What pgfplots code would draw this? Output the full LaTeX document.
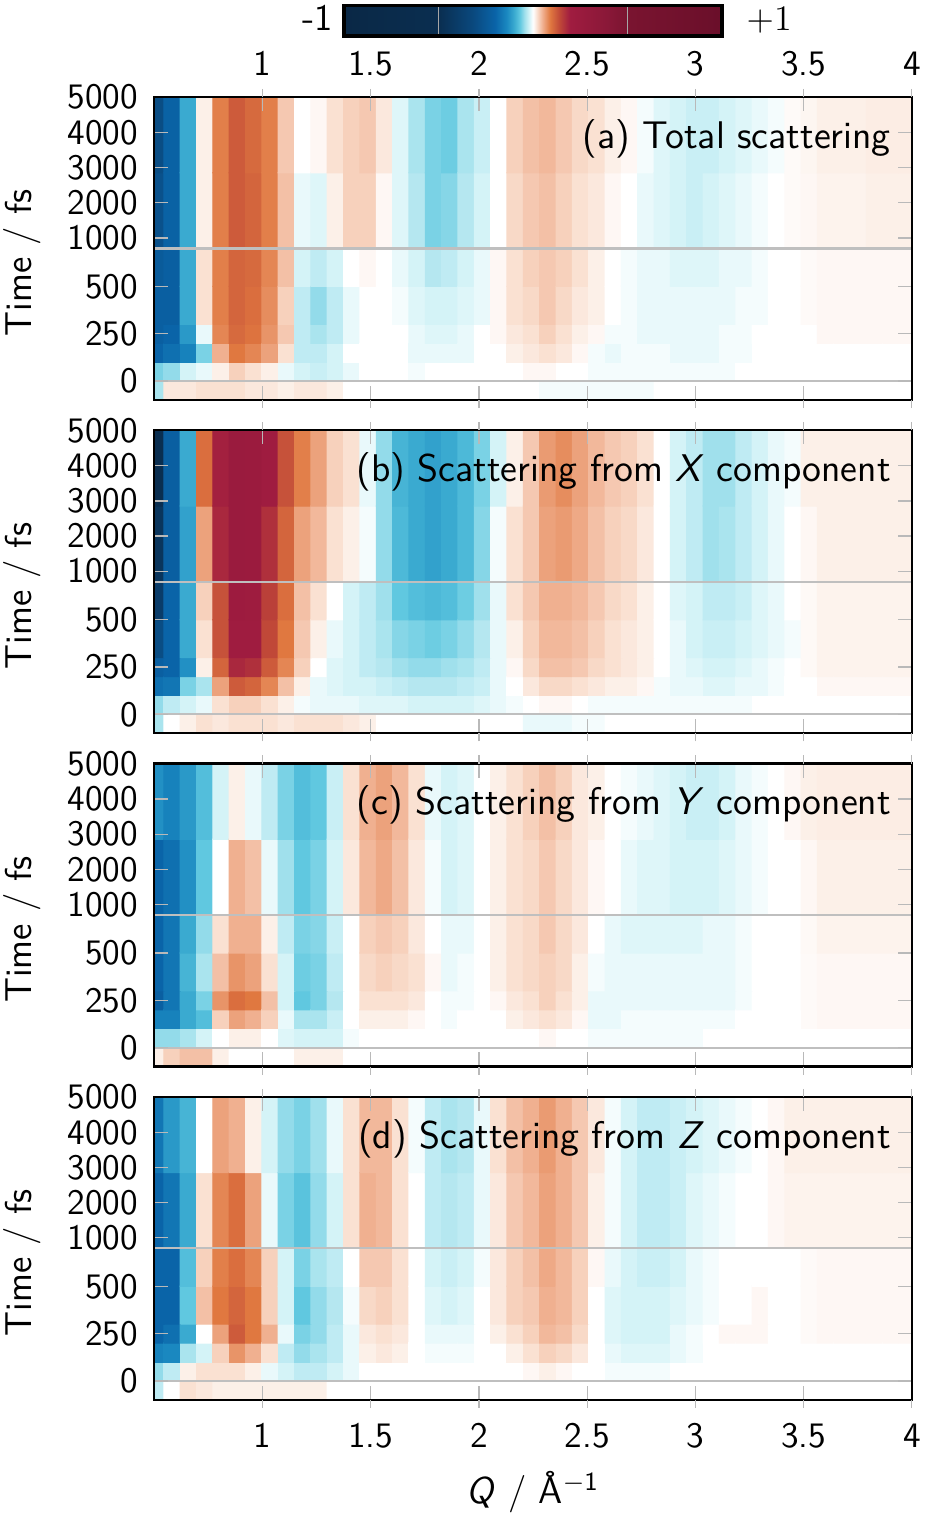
\documentclass[border=0pt]{standalone}
\usepackage{pgfplots}
\pgfplotsset{compat=1.18}
\renewcommand{\familydefault}{\sfdefault}

\pgfplotsset{colormap={xr}{
 rgb255(0pt)=(10,40,70)
 rgb255(500pt)=(10,46,80)
 rgb255(680pt)=(10,72,125)
 rgb255(800pt)=(10,100,168)
 rgb255(860pt)=(26,136,192)
 rgb255(900pt)=(58,170,208)
 rgb255(930pt)=(96,200,224)
 rgb255(955pt)=(160,224,236)
 rgb255(982pt)=(216,244,248)
 rgb255(1000pt)=(255,255,255)
 rgb255(1020pt)=(250,225,210)
 rgb255(1050pt)=(240,176,144)
 rgb255(1090pt)=(224,120,64)
 rgb255(1140pt)=(192,72,56)
 rgb255(1195pt)=(160,28,64)
 rgb255(1390pt)=(138,24,56)
 rgb255(1500pt)=(122,20,48)
 rgb255(2000pt)=(106,15,42)
}}

\pgfplotsset{
 panel/.style={
  scale only axis, width=252.5bp, height=101bp,
  xmin=0.5, xmax=4, ymin=-1, ymax=15,
  enlargelimits=false, axis on top,
  colormap name=xr, point meta min=-1, point meta max=1,
  xtick={1,1.5,2,2.5,3,3.5,4},
  ytick={0,2.5,5,7.557,9.414,11.271,13.129,15},
  yticklabels={0,250,500,1000,2000,3000,4000,5000},
  tick align=inside, major tick length=4.7bp,
  tick style={color=gray!55, line width=0.4bp},
  axis line style={line width=0.8bp, black},
  tick label style={font=\fontsize{12}{14}\selectfont},
  yticklabel style={inner sep=0pt, anchor=east, xshift=-5.3bp},
  extra x ticks={1,1.5,2,2.5,3,3.5,4}, extra x tick labels={},
  extra x tick style={tick align=outside, major tick length=2.7bp},
 },
 heat/.style={matrix plot*, mesh/cols=47, point meta=explicit, forget plot},
 glines/.style={gray!50, line width=0.7bp, forget plot},
}
\tikzset{plab/.style={anchor=base east, inner sep=0pt, font=\fontsize{12.9}{15}\selectfont, xshift=-6.8bp, yshift=-17.1bp}}

\begin{document}
\begin{tikzpicture}
\useasboundingbox (0,0) rectangle (308bp,505.33bp);

% ---------------- (a) ----------------
\begin{axis}[panel, at={(51.43bp,372bp)}, anchor=south west,
  xticklabel pos=upper,
  xticklabels={1,1.5,2,2.5,3,3.5,4},
  xticklabel style={inner sep=0pt, anchor=south, yshift=6.8bp},
  colorbar horizontal,
  colorbar style={at={(parent axis.north)}, anchor=south, yshift=28.8bp,
    scale only axis, width=126bp, height=10.2bp,
    xtick={-0.5,0.5}, xticklabels={}, ytick=\empty, major tick length=0pt,
    xmajorgrids, grid style={gray!70, line width=0.4bp},
    axis on top, axis line style={line width=1.1bp, black}},
]
\addplot[heat] table[row sep=\\, header=false, meta index=0, x expr={0.5068+0.0755*mod(\coordindex,47)}, y expr={floor((\coordindex+0.5)/47)-0.5}] {
-0.04\\ 0.015\\ 0.015\\ 0.02\\ 0.02\\ 0.02\\ 0.015\\ 0.015\\ 0.01\\ 0.015\\ 0.015\\ 0.01\\ 0\\ 0\\ 0\\ 0\\ 0\\ 0\\ 0\\ 0\\ 0\\ 0\\ 0\\ 0\\ -0.005\\ -0.005\\ -0.005\\ -0.005\\ -0.005\\ -0.005\\ -0.005\\ 0\\ 0\\ 0\\ 0\\ 0\\ 0\\ 0\\ 0\\ 0\\ 0\\ 0\\ 0\\ 0\\ 0\\ 0\\ 0\\
-0.06\\ -0.05\\ -0.02\\ -0.01\\ 0.01\\ 0.03\\ 0.02\\ 0.01\\ -0.01\\ -0.02\\ -0.025\\ -0.02\\ -0.01\\ 0\\ 0\\ 0\\ -0.005\\ 0\\ 0\\ 0\\ 0\\ 0\\ 0\\ 0.005\\ 0.005\\ 0\\ 0\\ -0.005\\ -0.005\\ -0.005\\ -0.005\\ -0.005\\ -0.005\\ -0.005\\ -0.005\\ -0.005\\ 0\\ 0\\ 0\\ 0\\ 0\\ 0\\ 0\\ 0\\ 0\\ 0\\ 0\\
-0.2\\ -0.18\\ -0.15\\ -0.06\\ 0.05\\ 0.09\\ 0.08\\ 0.06\\ 0.02\\ -0.03\\ -0.03\\ -0.02\\ 0\\ 0\\ 0\\ 0\\ -0.01\\ -0.01\\ -0.01\\ -0.01\\ 0\\ 0\\ 0.01\\ 0.015\\ 0.02\\ 0.015\\ 0.005\\ -0.005\\ -0.01\\ -0.005\\ -0.005\\ -0.005\\ -0.01\\ -0.01\\ -0.01\\ -0.005\\ -0.005\\ 0\\ 0\\ 0\\ 0\\ 0\\ 0\\ 0\\ 0\\ 0\\ 0\\
-0.22\\ -0.2\\ -0.12\\ -0.01\\ 0.08\\ 0.105\\ 0.095\\ 0.07\\ 0.035\\ -0.03\\ -0.04\\ -0.03\\ -0.01\\ 0\\ 0\\ 0\\ -0.01\\ -0.015\\ -0.015\\ -0.01\\ 0\\ 0.005\\ 0.015\\ 0.02\\ 0.03\\ 0.02\\ 0.01\\ 0.005\\ -0.005\\ -0.005\\ -0.01\\ -0.01\\ -0.01\\ -0.01\\ -0.01\\ -0.005\\ -0.005\\ 0\\ 0\\ 0\\ 0\\ 0.005\\ 0.005\\ 0.005\\ 0.005\\ 0.005\\ 0.005\\
};
\addplot[heat] table[row sep=\\, header=false, meta index=0, x expr={0.5068+0.0755*mod(\coordindex,47)}, y expr={4+2*floor((\coordindex+0.5)/47)}] {
-0.22\\ -0.22\\ -0.1\\ 0.02\\ 0.085\\ 0.11\\ 0.1\\ 0.075\\ 0.03\\ -0.03\\ -0.05\\ -0.03\\ -0.01\\ 0\\ 0\\ -0.005\\ -0.015\\ -0.02\\ -0.02\\ -0.015\\ -0.01\\ 0.005\\ 0.02\\ 0.025\\ 0.035\\ 0.025\\ 0.015\\ 0.01\\ 0\\ -0.005\\ -0.01\\ -0.01\\ -0.01\\ -0.01\\ -0.01\\ -0.01\\ -0.005\\ -0.005\\ 0\\ 0\\ 0.003\\ 0.005\\ 0.005\\ 0.005\\ 0.005\\ 0.005\\ 0.005\\
-0.24\\ -0.22\\ -0.1\\ 0.02\\ 0.085\\ 0.11\\ 0.105\\ 0.08\\ 0.04\\ -0.02\\ -0.03\\ -0.02\\ 0\\ 0.005\\ 0\\ -0.01\\ -0.02\\ -0.035\\ -0.03\\ -0.02\\ -0.01\\ 0.005\\ 0.02\\ 0.03\\ 0.035\\ 0.03\\ 0.02\\ 0.01\\ 0\\ -0.005\\ -0.01\\ -0.01\\ -0.015\\ -0.015\\ -0.015\\ -0.01\\ -0.01\\ -0.005\\ 0\\ 0\\ 0.003\\ 0.005\\ 0.005\\ 0.005\\ 0.005\\ 0.005\\ 0.005\\
};
\addplot[heat] table[row sep=\\, header=false, meta index=0, x expr={0.5068+0.0755*mod(\coordindex,47)}, y expr={9+4*floor((\coordindex+0.5)/47)}] {
-0.28\\ -0.21\\ -0.1\\ 0.01\\ 0.085\\ 0.12\\ 0.11\\ 0.085\\ 0.04\\ -0.01\\ -0.015\\ 0.01\\ 0.03\\ 0.03\\ 0.005\\ -0.015\\ -0.035\\ -0.06\\ -0.055\\ -0.035\\ -0.02\\ 0\\ 0.025\\ 0.035\\ 0.04\\ 0.03\\ 0.02\\ 0.015\\ 0.005\\ 0\\ -0.01\\ -0.015\\ -0.02\\ -0.025\\ -0.02\\ -0.015\\ -0.01\\ -0.005\\ 0\\ 0.003\\ 0.005\\ 0.008\\ 0.008\\ 0.008\\ 0.01\\ 0.01\\ 0.01\\
-0.3\\ -0.21\\ -0.1\\ 0.01\\ 0.085\\ 0.12\\ 0.105\\ 0.085\\ 0.035\\ 0\\ 0.005\\ 0.02\\ 0.03\\ 0.035\\ 0.015\\ -0.015\\ -0.04\\ -0.06\\ -0.065\\ -0.04\\ -0.025\\ 0\\ 0.03\\ 0.04\\ 0.045\\ 0.035\\ 0.025\\ 0.02\\ 0.01\\ 0.005\\ -0.005\\ -0.015\\ -0.02\\ -0.025\\ -0.025\\ -0.02\\ -0.015\\ -0.01\\ -0.005\\ 0.003\\ 0.006\\ 0.01\\ 0.01\\ 0.01\\ 0.012\\ 0.012\\ 0.012\\
};
\addplot[glines] coordinates {(0.5,0) (4,0)};
\addplot[glines] coordinates {(0.5,7) (4,7)};
\node[plab] at (rel axis cs:1,1) {(a) Total scattering};
\end{axis}

% ---------------- (b) ----------------
\begin{axis}[panel, at={(51.43bp,260.9bp)}, anchor=south west, xticklabels={}]
\addplot[heat] table[row sep=\\, header=false, meta index=0, x expr={0.5068+0.0755*mod(\coordindex,47)}, y expr={floor((\coordindex+0.5)/47)-0.5}] {
-0.04\\ 0\\ 0.01\\ 0.02\\ 0.015\\ 0.02\\ 0.02\\ 0.02\\ 0.015\\ 0.02\\ 0.02\\ 0.02\\ 0.015\\ 0.01\\ 0\\ 0\\ 0\\ 0\\ 0\\ 0\\ 0\\ 0\\ 0\\ -0.01\\ -0.01\\ -0.01\\ -0.005\\ -0.005\\ 0\\ 0\\ 0\\ 0\\ 0\\ 0\\ 0\\ 0\\ 0\\ 0\\ 0\\ 0\\ 0\\ 0\\ 0\\ 0\\ 0\\ 0\\ 0\\
-0.05\\ -0.03\\ -0.02\\ -0.01\\ 0.02\\ 0.03\\ 0.03\\ 0.02\\ 0.01\\ -0.005\\ -0.01\\ -0.01\\ -0.01\\ -0.015\\ -0.015\\ -0.015\\ -0.02\\ -0.02\\ -0.02\\ -0.02\\ -0.015\\ -0.01\\ -0.005\\ 0\\ 0.005\\ 0.005\\ 0\\ -0.005\\ -0.005\\ -0.005\\ -0.005\\ -0.005\\ -0.005\\ -0.005\\ -0.005\\ -0.005\\ -0.005\\ 0\\ 0\\ 0\\ 0\\ 0\\ 0\\ 0\\ 0\\ 0\\ 0\\
-0.18\\ -0.17\\ -0.06\\ -0.04\\ 0.06\\ 0.12\\ 0.11\\ 0.08\\ 0.04\\ 0.01\\ -0.01\\ -0.015\\ -0.02\\ -0.02\\ -0.025\\ -0.03\\ -0.035\\ -0.035\\ -0.035\\ -0.03\\ -0.025\\ -0.01\\ 0\\ 0.015\\ 0.025\\ 0.025\\ 0.02\\ 0.015\\ 0.01\\ 0.01\\ 0.005\\ -0.005\\ -0.01\\ -0.01\\ -0.015\\ -0.015\\ -0.01\\ -0.01\\ -0.005\\ 0\\ 0\\ 0.005\\ 0.005\\ 0.005\\ 0.005\\ 0.005\\ 0.005\\
-0.22\\ -0.2\\ -0.13\\ 0.01\\ 0.11\\ 0.18\\ 0.17\\ 0.12\\ 0.08\\ 0.03\\ 0\\ -0.015\\ -0.02\\ -0.03\\ -0.035\\ -0.045\\ -0.05\\ -0.05\\ -0.045\\ -0.04\\ -0.03\\ -0.01\\ 0.005\\ 0.025\\ 0.04\\ 0.04\\ 0.035\\ 0.025\\ 0.02\\ 0.015\\ 0.01\\ 0\\ -0.01\\ -0.015\\ -0.02\\ -0.02\\ -0.015\\ -0.01\\ -0.005\\ 0\\ 0.004\\ 0.008\\ 0.008\\ 0.008\\ 0.008\\ 0.008\\ 0.008\\
};
\addplot[heat] table[row sep=\\, header=false, meta index=0, x expr={0.5068+0.0755*mod(\coordindex,47)}, y expr={4+2*floor((\coordindex+0.5)/47)}] {
-0.3\\ -0.2\\ -0.1\\ 0.02\\ 0.13\\ 0.2\\ 0.2\\ 0.14\\ 0.09\\ 0.035\\ 0.01\\ -0.01\\ -0.02\\ -0.03\\ -0.04\\ -0.055\\ -0.06\\ -0.065\\ -0.06\\ -0.05\\ -0.035\\ -0.01\\ 0.01\\ 0.03\\ 0.045\\ 0.045\\ 0.04\\ 0.03\\ 0.02\\ 0.015\\ 0.01\\ 0\\ -0.01\\ -0.02\\ -0.025\\ -0.025\\ -0.02\\ -0.015\\ -0.01\\ -0.005\\ 0.004\\ 0.008\\ 0.008\\ 0.008\\ 0.008\\ 0.008\\ 0.008\\
-0.4\\ -0.2\\ -0.1\\ 0.03\\ 0.13\\ 0.22\\ 0.21\\ 0.15\\ 0.1\\ 0.04\\ 0.02\\ 0\\ -0.02\\ -0.03\\ -0.045\\ -0.07\\ -0.08\\ -0.085\\ -0.08\\ -0.065\\ -0.045\\ -0.01\\ 0.02\\ 0.035\\ 0.05\\ 0.05\\ 0.045\\ 0.035\\ 0.025\\ 0.02\\ 0.01\\ 0\\ -0.015\\ -0.02\\ -0.03\\ -0.03\\ -0.025\\ -0.015\\ -0.01\\ 0\\ 0.004\\ 0.008\\ 0.008\\ 0.008\\ 0.008\\ 0.008\\ 0.008\\
};
\addplot[heat] table[row sep=\\, header=false, meta index=0, x expr={0.5068+0.0755*mod(\coordindex,47)}, y expr={9+4*floor((\coordindex+0.5)/47)}] {
-0.45\\ -0.22\\ -0.11\\ 0.06\\ 0.18\\ 0.25\\ 0.24\\ 0.17\\ 0.11\\ 0.06\\ 0.045\\ 0.02\\ 0.01\\ -0.005\\ -0.05\\ -0.085\\ -0.1\\ -0.11\\ -0.1\\ -0.085\\ -0.055\\ -0.005\\ 0.02\\ 0.035\\ 0.06\\ 0.065\\ 0.055\\ 0.04\\ 0.03\\ 0.025\\ 0.015\\ 0\\ -0.02\\ -0.03\\ -0.045\\ -0.04\\ -0.03\\ -0.02\\ -0.01\\ 0\\ 0.005\\ 0.01\\ 0.01\\ 0.01\\ 0.01\\ 0.01\\ 0.01\\
-0.5\\ -0.22\\ -0.1\\ 0.1\\ 0.19\\ 0.25\\ 0.24\\ 0.2\\ 0.13\\ 0.085\\ 0.06\\ 0.03\\ 0.02\\ -0.01\\ -0.05\\ -0.09\\ -0.1\\ -0.11\\ -0.1\\ -0.085\\ -0.06\\ -0.02\\ 0.01\\ 0.035\\ 0.065\\ 0.075\\ 0.06\\ 0.045\\ 0.035\\ 0.03\\ 0.02\\ 0\\ -0.02\\ -0.03\\ -0.045\\ -0.045\\ -0.03\\ -0.02\\ -0.01\\ -0.005\\ 0.01\\ 0.01\\ 0.01\\ 0.01\\ 0.01\\ 0.01\\ 0.01\\
};
\addplot[glines] coordinates {(0.5,0) (4,0)};
\addplot[glines] coordinates {(0.5,7) (4,7)};
\node[plab] at (rel axis cs:1,1) {(b) Scattering from \textsl{X} component};
\end{axis}

% ---------------- (c) ----------------
\begin{axis}[panel, at={(51.43bp,149.8bp)}, anchor=south west, xticklabels={}]
\addplot[heat] table[row sep=\\, header=false, meta index=0, x expr={0.5068+0.0755*mod(\coordindex,47)}, y expr={floor((\coordindex+0.5)/47)-0.5}] {
0.01\\ 0.03\\ 0.04\\ 0.04\\ 0.01\\ 0\\ 0\\ 0\\ 0\\ 0.01\\ 0.01\\ 0.01\\ 0\\ 0\\ 0\\ 0\\ 0\\ 0\\ 0\\ 0\\ 0\\ 0\\ 0\\ 0\\ 0\\ 0\\ 0\\ 0\\ 0\\ 0\\ 0\\ 0\\ 0\\ 0\\ 0\\ 0\\ 0\\ 0\\ 0\\ 0\\ 0\\ 0\\ 0\\ 0\\ 0\\ 0\\ 0\\
-0.05\\ -0.05\\ -0.04\\ -0.02\\ 0\\ 0.01\\ 0.01\\ 0\\ -0.015\\ -0.02\\ -0.02\\ -0.02\\ -0.005\\ 0\\ 0\\ 0\\ 0\\ 0\\ 0\\ 0\\ 0\\ 0\\ 0\\ 0\\ 0.005\\ 0\\ 0\\ -0.005\\ -0.005\\ -0.005\\ -0.005\\ -0.005\\ -0.005\\ -0.005\\ 0\\ 0\\ 0\\ 0\\ 0\\ 0\\ 0\\ 0\\ 0\\ 0\\ 0\\ 0\\ 0\\
-0.15\\ -0.15\\ -0.1\\ -0.08\\ 0.03\\ 0.06\\ 0.05\\ 0.03\\ -0.01\\ -0.04\\ -0.04\\ -0.025\\ 0\\ 0.01\\ 0.01\\ 0.01\\ 0.005\\ 0\\ -0.005\\ 0\\ 0\\ 0\\ 0.01\\ 0.015\\ 0.02\\ 0.015\\ 0.005\\ -0.01\\ -0.01\\ -0.005\\ -0.005\\ -0.005\\ -0.005\\ -0.005\\ -0.005\\ -0.005\\ 0\\ 0\\ 0\\ 0\\ 0.003\\ 0.005\\ 0.005\\ 0.005\\ 0.005\\ 0.005\\ 0.005\\
-0.22\\ -0.17\\ -0.1\\ -0.06\\ 0.07\\ 0.1\\ 0.09\\ 0.04\\ -0.02\\ -0.07\\ -0.06\\ -0.035\\ 0\\ 0.02\\ 0.02\\ 0.02\\ 0.015\\ 0\\ -0.005\\ -0.005\\ 0\\ 0.005\\ 0.015\\ 0.02\\ 0.03\\ 0.02\\ 0.01\\ -0.01\\ -0.01\\ -0.01\\ -0.01\\ -0.01\\ -0.01\\ -0.01\\ -0.01\\ -0.01\\ -0.005\\ 0\\ 0\\ 0\\ 0.003\\ 0.005\\ 0.005\\ 0.005\\ 0.005\\ 0.005\\ 0.005\\
};
\addplot[heat] table[row sep=\\, header=false, meta index=0, x expr={0.5068+0.0755*mod(\coordindex,47)}, y expr={4+2*floor((\coordindex+0.5)/47)}] {
-0.2\\ -0.17\\ -0.09\\ -0.04\\ 0.04\\ 0.07\\ 0.06\\ 0.02\\ -0.02\\ -0.065\\ -0.06\\ -0.03\\ 0\\ 0.025\\ 0.03\\ 0.025\\ 0.02\\ 0.005\\ -0.01\\ -0.005\\ 0\\ 0.01\\ 0.02\\ 0.025\\ 0.03\\ 0.025\\ 0.01\\ -0.005\\ -0.01\\ -0.01\\ -0.01\\ -0.01\\ -0.01\\ -0.01\\ -0.01\\ -0.01\\ -0.005\\ 0\\ 0\\ 0\\ 0.003\\ 0.005\\ 0.005\\ 0.005\\ 0.005\\ 0.005\\ 0.005\\
-0.2\\ -0.17\\ -0.1\\ -0.05\\ 0.02\\ 0.05\\ 0.05\\ 0.01\\ -0.03\\ -0.06\\ -0.055\\ -0.025\\ 0\\ 0.03\\ 0.035\\ 0.03\\ 0.015\\ 0\\ -0.01\\ -0.01\\ 0\\ 0.01\\ 0.02\\ 0.025\\ 0.035\\ 0.025\\ 0.015\\ 0\\ -0.01\\ -0.015\\ -0.015\\ -0.015\\ -0.015\\ -0.015\\ -0.01\\ -0.01\\ -0.005\\ 0\\ 0\\ 0\\ 0.004\\ 0.008\\ 0.008\\ 0.008\\ 0.008\\ 0.008\\ 0.008\\
};
\addplot[heat] table[row sep=\\, header=false, meta index=0, x expr={0.5068+0.0755*mod(\coordindex,47)}, y expr={9+4*floor((\coordindex+0.5)/47)}] {
-0.2\\ -0.18\\ -0.13\\ -0.07\\ 0\\ 0.05\\ 0.04\\ -0.01\\ -0.045\\ -0.07\\ -0.06\\ -0.02\\ 0.015\\ 0.045\\ 0.055\\ 0.04\\ 0.015\\ -0.005\\ -0.02\\ -0.015\\ 0\\ 0.01\\ 0.02\\ 0.025\\ 0.035\\ 0.025\\ 0.015\\ 0.005\\ 0\\ -0.01\\ -0.015\\ -0.015\\ -0.02\\ -0.02\\ -0.02\\ -0.015\\ -0.01\\ -0.005\\ 0\\ 0\\ 0.005\\ 0.01\\ 0.01\\ 0.01\\ 0.01\\ 0.01\\ 0.01\\
-0.13\\ -0.15\\ -0.12\\ -0.08\\ -0.02\\ 0.01\\ -0.01\\ -0.03\\ -0.06\\ -0.08\\ -0.07\\ -0.025\\ 0.02\\ 0.05\\ 0.06\\ 0.045\\ 0.02\\ -0.01\\ -0.02\\ -0.015\\ 0\\ 0.01\\ 0.02\\ 0.03\\ 0.04\\ 0.03\\ 0.015\\ 0.01\\ 0\\ -0.005\\ -0.01\\ -0.015\\ -0.02\\ -0.025\\ -0.025\\ -0.02\\ -0.01\\ -0.005\\ 0\\ 0.005\\ 0.01\\ 0.012\\ 0.012\\ 0.012\\ 0.012\\ 0.012\\ 0.012\\
};
\addplot[glines] coordinates {(0.5,0) (4,0)};
\addplot[glines] coordinates {(0.5,7) (4,7)};
\node[plab] at (rel axis cs:1,1) {(c) Scattering from \textsl{Y} component};
\end{axis}

% ---------------- (d) ----------------
\begin{axis}[panel, at={(51.43bp,38.7bp)}, anchor=south west,
  xticklabels={1,1.5,2,2.5,3,3.5,4},
  xticklabel style={inner sep=0pt, anchor=north, yshift=-7.7bp}]
\addplot[heat] table[row sep=\\, header=false, meta index=0, x expr={0.5068+0.0755*mod(\coordindex,47)}, y expr={floor((\coordindex+0.5)/47)-0.5}] {
-0.03\\ 0\\ 0.02\\ 0.015\\ 0.01\\ 0.01\\ 0.01\\ 0.01\\ 0.01\\ 0.01\\ 0.01\\ 0\\ 0\\ 0\\ 0\\ 0\\ 0\\ 0\\ 0\\ 0\\ 0\\ 0\\ 0\\ 0\\ 0\\ 0\\ 0\\ 0\\ 0\\ 0\\ 0\\ 0\\ 0\\ 0\\ 0\\ 0\\ 0\\ 0\\ 0\\ 0\\ 0\\ 0\\ 0\\ 0\\ 0\\ 0\\ 0\\
-0.05\\ -0.03\\ 0.01\\ 0.02\\ 0.02\\ 0.02\\ 0.01\\ -0.01\\ -0.02\\ -0.03\\ -0.03\\ -0.02\\ -0.01\\ 0\\ 0\\ 0\\ 0\\ 0\\ 0\\ 0\\ 0\\ 0\\ 0\\ 0.005\\ 0.01\\ 0.005\\ 0\\ 0\\ -0.005\\ -0.005\\ -0.005\\ -0.005\\ 0\\ 0\\ 0\\ 0\\ 0\\ 0\\ 0\\ 0\\ 0\\ 0\\ 0\\ 0\\ 0\\ 0\\ 0\\
-0.15\\ -0.14\\ -0.04\\ -0.02\\ 0.03\\ 0.07\\ 0.05\\ 0.02\\ -0.03\\ -0.05\\ -0.04\\ -0.03\\ -0.01\\ 0.01\\ 0.015\\ 0.01\\ 0\\ -0.005\\ -0.005\\ -0.005\\ 0\\ 0\\ 0.01\\ 0.02\\ 0.03\\ 0.025\\ 0.015\\ 0\\ -0.01\\ -0.015\\ -0.015\\ -0.015\\ -0.01\\ -0.005\\ 0\\ 0\\ 0\\ 0\\ 0\\ 0\\ 0\\ 0\\ 0\\ 0\\ 0\\ 0\\ 0\\
-0.2\\ -0.18\\ -0.1\\ 0\\ 0.06\\ 0.12\\ 0.09\\ 0.05\\ -0.01\\ -0.06\\ -0.05\\ -0.03\\ -0.01\\ 0.015\\ 0.02\\ 0.015\\ 0\\ -0.01\\ -0.01\\ -0.01\\ 0\\ 0.01\\ 0.02\\ 0.03\\ 0.045\\ 0.04\\ 0.025\\ 0\\ -0.015\\ -0.02\\ -0.02\\ -0.02\\ -0.01\\ -0.005\\ 0\\ 0.005\\ 0.005\\ 0.005\\ 0\\ 0\\ 0.003\\ 0.005\\ 0.005\\ 0.005\\ 0.005\\ 0.005\\ 0.005\\
};
\addplot[heat] table[row sep=\\, header=false, meta index=0, x expr={0.5068+0.0755*mod(\coordindex,47)}, y expr={4+2*floor((\coordindex+0.5)/47)}] {
-0.2\\ -0.2\\ -0.07\\ 0.04\\ 0.09\\ 0.11\\ 0.09\\ 0.03\\ -0.02\\ -0.07\\ -0.05\\ -0.035\\ -0.005\\ 0.025\\ 0.03\\ 0.02\\ 0\\ -0.015\\ -0.02\\ -0.015\\ 0\\ 0.015\\ 0.03\\ 0.035\\ 0.05\\ 0.045\\ 0.03\\ 0\\ -0.015\\ -0.02\\ -0.02\\ -0.02\\ -0.015\\ -0.01\\ -0.005\\ 0\\ 0\\ 0.005\\ 0\\ 0\\ 0.003\\ 0.005\\ 0.005\\ 0.005\\ 0.005\\ 0.005\\ 0.005\\
-0.2\\ -0.2\\ -0.08\\ 0.03\\ 0.085\\ 0.1\\ 0.08\\ 0.03\\ -0.02\\ -0.06\\ -0.04\\ -0.03\\ 0\\ 0.035\\ 0.035\\ 0.02\\ 0\\ -0.02\\ -0.025\\ -0.02\\ -0.005\\ 0.015\\ 0.03\\ 0.04\\ 0.055\\ 0.045\\ 0.03\\ 0.005\\ -0.01\\ -0.02\\ -0.025\\ -0.025\\ -0.02\\ -0.01\\ -0.005\\ 0\\ 0\\ 0\\ 0\\ 0\\ 0.003\\ 0.005\\ 0.005\\ 0.005\\ 0.005\\ 0.005\\ 0.005\\
};
\addplot[heat] table[row sep=\\, header=false, meta index=0, x expr={0.5068+0.0755*mod(\coordindex,47)}, y expr={9+4*floor((\coordindex+0.5)/47)}] {
-0.2\\ -0.17\\ -0.1\\ 0.02\\ 0.08\\ 0.1\\ 0.06\\ -0.01\\ -0.06\\ -0.075\\ -0.05\\ -0.02\\ 0.02\\ 0.05\\ 0.045\\ 0.02\\ 0\\ -0.03\\ -0.035\\ -0.03\\ -0.01\\ 0.015\\ 0.035\\ 0.045\\ 0.06\\ 0.05\\ 0.035\\ 0.01\\ -0.005\\ -0.02\\ -0.03\\ -0.03\\ -0.025\\ -0.015\\ -0.01\\ -0.005\\ 0\\ 0\\ 0.005\\ 0.008\\ 0.008\\ 0.008\\ 0.008\\ 0.008\\ 0.008\\ 0.008\\ 0.008\\
-0.17\\ -0.12\\ -0.09\\ 0\\ 0.06\\ 0.05\\ 0.01\\ -0.02\\ -0.05\\ -0.06\\ -0.045\\ -0.01\\ 0.02\\ 0.045\\ 0.045\\ 0.02\\ -0.005\\ -0.03\\ -0.04\\ -0.035\\ -0.01\\ 0.02\\ 0.04\\ 0.05\\ 0.065\\ 0.05\\ 0.035\\ 0.015\\ -0.005\\ -0.02\\ -0.03\\ -0.03\\ -0.025\\ -0.02\\ -0.015\\ -0.01\\ -0.005\\ 0\\ 0.005\\ 0.01\\ 0.01\\ 0.01\\ 0.01\\ 0.01\\ 0.01\\ 0.01\\ 0.01\\
};
\addplot[glines] coordinates {(0.5,0) (4,0)};
\addplot[glines] coordinates {(0.5,7) (4,7)};
\node[plab] at (rel axis cs:1,1) {(d) Scattering from \textsl{Z} component};
\end{axis}

% y labels
\foreach \yy in {417.7,306.6,195.5,84.4}{
  \node[rotate=90, anchor=base, inner sep=0pt, font=\fontsize{12.5}{15}\selectfont] at (10.6bp,\yy bp) {Time / fs};
}
% x label
\node[anchor=base, inner sep=0pt, font=\fontsize{12.5}{15}\selectfont] at (177.7bp,4.3bp) {\textsl{Q} / Å\textsuperscript{$-$1}};
% colorbar end labels
\node[anchor=base east, inner sep=0pt, font=\fontsize{12.5}{15}\selectfont] at (111.2bp,495.3bp) {-1};
\node[anchor=base west, inner sep=0pt, font=\fontsize{12.5}{15}\selectfont] at (248.7bp,495bp) {$+1$};
\end{tikzpicture}
\end{document}
